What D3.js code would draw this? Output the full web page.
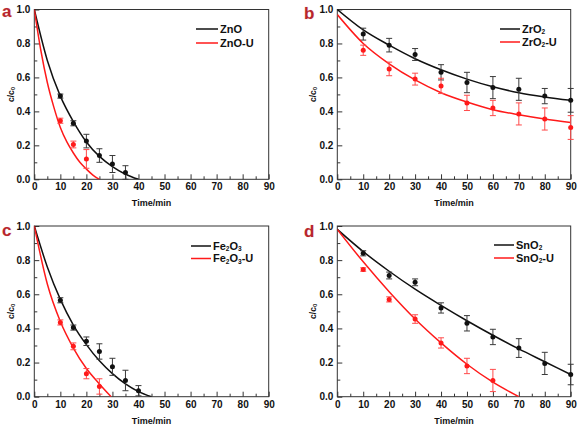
<!DOCTYPE html>
<html><head><meta charset="utf-8">
<script src="https://cdn.jsdelivr.net/npm/d3@7"></script>
<style>
body{margin:0;background:#fff;}
svg{display:block;font-family:"Liberation Sans",Arial,sans-serif;}
</style></head><body>
<svg id="chart" width="578" height="426"></svg>
<script>
// ---------- data ----------
const xTicksMajor = [0,10,20,30,40,50,60,70,80,90];
const xTicksMinor = [5,15,25,35,45,55,65,75,85];
const yTicksMajor = [0,0.2,0.4,0.6,0.8,1.0];
const yTicksMinor = [0.1,0.3,0.5,0.7,0.9];
const panelLetters = ["a","b","c","d"];
const xLabel = "Time/min";

// legend names as [text, isSubscript] segments
const namesA = [[["ZnO",0]], [["ZnO-U",0]]];
const namesB = [[["ZrO",0],["2",1]], [["ZrO",0],["2",1],["-U",0]]];
const namesC = [[["Fe",0],["2",1],["O",0],["3",1]], [["Fe",0],["2",1],["O",0],["3",1],["-U",0]]];
const namesD = [[["SnO",0],["2",1]], [["SnO",0],["2",1],["-U",0]]];

// panel a: ZnO
const znoT  = [10,15,20,25,30,35];
const znoV  = [0.49,0.33,0.225,0.14,0.09,0.04];
const znoE  = [0.012,0.015,0.04,0.04,0.05,0.04];
const znoFitT = [0,5,10,15,20,25,30,35,40];
const znoFitV = [1,0.70,0.49,0.34,0.22,0.135,0.075,0.03,0];
const znoUT = [10,15,20];
const znoUV = [0.345,0.205,0.12];
const znoUE = [0.015,0.02,0.055];
const znoUFitT = [0,2.5,5,7.5,10,12.5,15,17.5,20,22.5,25];
const znoUFitV = [1,0.76,0.57,0.425,0.305,0.22,0.155,0.10,0.06,0.025,0];

// panel b: ZrO2
const zroT  = [10,20,30,40,50,60,70,80,90];
const zroV  = [0.855,0.79,0.735,0.63,0.57,0.54,0.53,0.49,0.465];
const zroE  = [0.035,0.04,0.035,0.045,0.06,0.065,0.065,0.045,0.07];
const zroFitT = [0,10,20,30,40,50,60,70,80,90];
const zroFitV = [1,0.88,0.79,0.71,0.645,0.59,0.545,0.51,0.485,0.465];
const zroUT = [10,20,30,40,50,60,70,80,90];
const zroUV = [0.76,0.65,0.59,0.55,0.45,0.42,0.385,0.355,0.305];
const zroUE = [0.03,0.04,0.035,0.045,0.045,0.045,0.065,0.065,0.07];
const zroUFitT = [0,10,20,30,40,50,60,70,80,90];
const zroUFitV = [0.97,0.80,0.68,0.585,0.51,0.455,0.41,0.38,0.355,0.335];

// panel c: Fe2O3
const feT  = [10,15,20,25,30,35,40];
const feV  = [0.565,0.405,0.325,0.265,0.175,0.095,0.035];
const feE  = [0.015,0.015,0.025,0.045,0.05,0.06,0.03];
const feFitT = [0,5,10,15,20,25,30,35,40,45];
const feFitV = [1,0.76,0.57,0.42,0.305,0.21,0.135,0.075,0.03,0];
const feUT = [10,15,20,25];
const feUV = [0.435,0.295,0.135,0.06];
const feUE = [0.015,0.02,0.03,0.045];
const feUFitT = [0,5,10,15,20,25,29.5];
const feUFitV = [1,0.66,0.44,0.285,0.165,0.075,0];

// panel d: SnO2
const snoT  = [10,20,30,40,50,60,70,80,90];
const snoV  = [0.84,0.71,0.67,0.52,0.43,0.35,0.285,0.195,0.13];
const snoE  = [0.015,0.02,0.02,0.03,0.045,0.045,0.055,0.065,0.06];
const snoFitT = [0,10,20,30,40,50,60,70,80,90];
const snoFitV = [0.98,0.85,0.735,0.63,0.535,0.445,0.36,0.28,0.205,0.13];
const snoUT = [10,20,30,40,50,60];
const snoUV = [0.745,0.57,0.455,0.315,0.18,0.095];
const snoUE = [0.01,0.015,0.025,0.03,0.045,0.065];
const snoUFitT = [0,10,20,30,40,50,60,70];
const snoUFitV = [0.98,0.79,0.615,0.455,0.315,0.19,0.085,0];

// ---------- layout / style ----------
const BLACK = "#111", RED = "#ff1a1a", EBLACK = "#3a3a3a", ERED = "#ff4a4a";
const zip = (t,v,e) => t.map((d,i)=>({t:d, v:v[i], e:e ? e[i] : 0}));

const panels = [
  {letter:panelLetters[0], box:[34.3,268.7,9.5,179.3], lx:[196,218], ly:[29,43], ltr:[2,17], ylab:11,
   names:namesA, series:[
     {pts:zip(znoT,znoV,znoE), fit:zip(znoFitT,znoFitV), c:BLACK, ec:EBLACK},
     {pts:zip(znoUT,znoUV,znoUE), fit:zip(znoUFitT,znoUFitV), c:RED, ec:ERED}]},
  {letter:panelLetters[1], box:[337.3,570.7,9.5,179.3], lx:[500,520], ly:[29,42], ltr:[304,19], ylab:313,
   names:namesB, series:[
     {pts:zip(zroT,zroV,zroE), fit:zip(zroFitT,zroFitV), c:BLACK, ec:EBLACK},
     {pts:zip(zroUT,zroUV,zroUE), fit:zip(zroUFitT,zroUFitV), c:RED, ec:ERED}]},
  {letter:panelLetters[2], box:[34.3,268.7,226,396.7], lx:[191,211], ly:[246,258.5], ltr:[2,236], ylab:11,
   names:namesC, series:[
     {pts:zip(feT,feV,feE), fit:zip(feFitT,feFitV), c:BLACK, ec:EBLACK},
     {pts:zip(feUT,feUV,feUE), fit:zip(feUFitT,feUFitV), c:RED, ec:ERED}]},
  {letter:panelLetters[3], box:[337.3,570.7,226,396.7], lx:[494,514], ly:[245,258], ltr:[304,237], ylab:313,
   names:namesD, series:[
     {pts:zip(snoT,snoV,snoE), fit:zip(snoFitT,snoFitV), c:BLACK, ec:EBLACK},
     {pts:zip(snoUT,snoUV,snoUE), fit:zip(snoUFitT,snoUFitV), c:RED, ec:ERED}]}
];

const svg = d3.select("#chart");

panels.forEach(p=>{
  const [x0,x1,y0,y1] = p.box;
  const x = d3.scaleLinear().domain([0,90]).range([x0,x1]);
  const y = d3.scaleLinear().domain([0,1]).range([y1,y0]);
  const g = svg.append("g");

  // axes (inward ticks)
  const ax = g.append("g").attr("transform",`translate(0,${y1})`)
    .call(d3.axisBottom(x).tickValues(xTicksMajor).tickSize(-5).tickPadding(4).tickFormat(d3.format("d")));
  const axm = g.append("g").attr("transform",`translate(0,${y1})`)
    .call(d3.axisBottom(x).tickValues(xTicksMinor).tickSize(-3).tickFormat(""));
  const ay = g.append("g").attr("transform",`translate(${x0},0)`)
    .call(d3.axisLeft(y).tickValues(yTicksMajor).tickSize(-5).tickPadding(4).tickFormat(d3.format(".1f")));
  const aym = g.append("g").attr("transform",`translate(${x0},0)`)
    .call(d3.axisLeft(y).tickValues(yTicksMinor).tickSize(-3).tickFormat(""));
  [ax,axm,ay,aym].forEach(a=>{
    a.select(".domain").remove();
    a.selectAll(".tick line").attr("stroke","#333").attr("stroke-width",1);
    a.selectAll(".tick text").attr("font-size",10).attr("font-weight","bold").attr("fill","#111")
      .attr("font-family","'Liberation Sans',Arial,sans-serif");
  });

  // frame
  g.append("rect").attr("x",x0).attr("y",y0).attr("width",x1-x0).attr("height",y1-y0)
    .attr("fill","none").attr("stroke","#333").attr("stroke-width",1);

  // axis labels
  g.append("text").attr("x",(x0+x1)/2).attr("y",y1+27).attr("text-anchor","middle")
    .attr("font-size",9).attr("font-weight","bold").attr("fill","#111").text(xLabel);
  const yl = g.append("text").attr("transform",`translate(${p.ylab},${(y0+y1)/2}) rotate(-90)`)
    .attr("text-anchor","middle").attr("dy","0.35em").attr("font-size",8.5).attr("font-weight","bold").attr("fill","#111");
  yl.append("tspan").text("c/c");
  yl.append("tspan").text("0").attr("font-size",6).attr("dy",1.5);

  // clip for fits
  const cid = "clip"+p.letter;
  svg.append("clipPath").attr("id",cid).append("rect").attr("x",x0).attr("y",y0-2).attr("width",x1-x0).attr("height",y1-y0+2);

  const line = d3.line().x(d=>x(d.t)).y(d=>y(d.v)).curve(d3.curveMonotoneX);
  p.series.forEach(s=>{
    g.append("path").datum(s.fit).attr("d",line).attr("fill","none")
      .attr("stroke",s.c).attr("stroke-width",1.5).attr("clip-path",`url(#${cid})`);
    const eb = g.append("g");
    s.pts.forEach(d=>{
      const cx = x(d.t), ya = y(d.v+d.e), yb = y(d.v-d.e);
      eb.append("line").attr("x1",cx).attr("x2",cx).attr("y1",ya).attr("y2",yb).attr("stroke",s.ec).attr("stroke-width",1);
      eb.append("line").attr("x1",cx-3).attr("x2",cx+3).attr("y1",ya).attr("y2",ya).attr("stroke",s.ec).attr("stroke-width",1);
      eb.append("line").attr("x1",cx-3).attr("x2",cx+3).attr("y1",yb).attr("y2",yb).attr("stroke",s.ec).attr("stroke-width",1);
    });
    g.append("g").selectAll("circle").data(s.pts).join("circle")
      .attr("cx",d=>x(d.t)).attr("cy",d=>y(d.v)).attr("r",2.5).attr("fill",s.c);
  });

  // legend
  p.series.forEach((s,i)=>{
    g.append("line").attr("x1",p.lx[0]).attr("x2",p.lx[1]).attr("y1",p.ly[i]).attr("y2",p.ly[i])
      .attr("stroke",s.c).attr("stroke-width",1.5);
    const t = g.append("text").attr("x",p.lx[1]+2).attr("y",p.ly[i]).attr("dy","0.36em")
      .attr("font-size",11).attr("font-weight","bold").attr("fill","#111");
    let prevSub = false;
    p.names[i].forEach(([str,sub])=>{
      const ts = t.append("tspan").text(str);
      if(sub){ ts.attr("font-size",6.5).attr("dy", prevSub?0:1.5); }
      else if(prevSub){ ts.attr("dy",-1.5); }
      prevSub = !!sub;
    });
  });

  // panel letter
  svg.append("text").attr("x",p.ltr[0]).attr("y",p.ltr[1]).attr("font-size",17).attr("font-weight","bold")
    .attr("fill","#b8262c").attr("stroke","#f4dede").attr("stroke-width",0.6).attr("paint-order","stroke")
    .text(p.letter);
});
</script>
</body></html>
